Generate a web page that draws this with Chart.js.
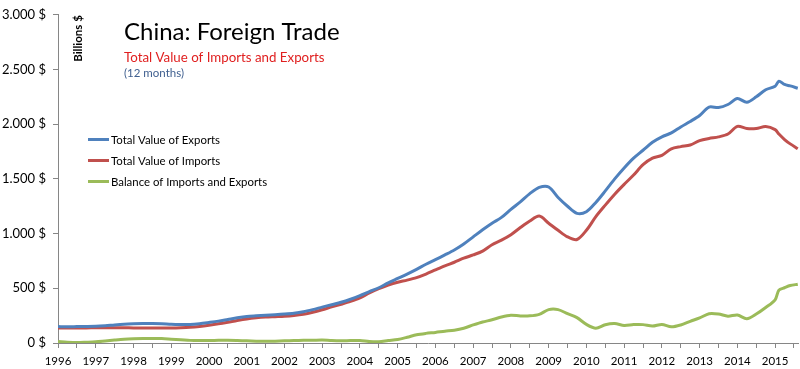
<!DOCTYPE html>
<html>
<head>
<meta charset="utf-8">
<title>China: Foreign Trade</title>
<script src="https://cdn.jsdelivr.net/npm/chart.js@4/dist/chart.umd.min.js"></script>
<style>
  body { margin: 0; background: #fff; }
  canvas { display: block; }
</style>
</head>
<body>
<canvas id="chart" width="800" height="369"></canvas>
<script>
// 12-month totals, billions of US$
const dates = [
  1996.00, 1996.25, 1996.50, 1996.75, 1997.00, 1997.25, 1997.50, 1997.75,
  1998.00, 1998.25, 1998.50, 1998.75, 1999.00, 1999.25, 1999.50, 1999.75,
  2000.00, 2000.25, 2000.50, 2000.75, 2001.00, 2001.25, 2001.50, 2001.75,
  2002.00, 2002.25, 2002.50, 2002.75, 2003.00, 2003.25, 2003.50, 2003.75,
  2004.00, 2004.25, 2004.50, 2004.75, 2005.00, 2005.25, 2005.50, 2005.75,
  2006.00, 2006.25, 2006.50, 2006.75, 2007.00, 2007.25, 2007.50, 2007.75,
  2008.00, 2008.25, 2008.50, 2008.75, 2009.00, 2009.25, 2009.50, 2009.75,
  2010.00, 2010.25, 2010.50, 2010.75, 2011.00, 2011.25, 2011.50, 2011.75,
  2012.00, 2012.25, 2012.50, 2012.75, 2013.00, 2013.25, 2013.50, 2013.75,
  2014.00, 2014.25, 2014.50, 2014.75, 2015.00, 2015.10, 2015.25, 2015.40,
  2015.60
];
const exportsTotal = [
  150, 149, 150, 151, 153, 158, 165, 171,
  175, 178, 179, 177, 172, 170, 170, 177,
  188, 200, 215, 230, 242, 248, 253, 258,
  264, 272, 285, 305, 328, 350, 372, 400,
  433, 470, 505, 550, 590, 630, 673, 720,
  762, 805, 850, 905, 970, 1035, 1095, 1148,
  1222, 1290, 1365, 1422, 1426, 1330, 1250, 1185,
  1200, 1285, 1390, 1500, 1600, 1690, 1762, 1835,
  1885, 1920, 1975, 2025, 2080, 2157, 2152, 2180,
  2235, 2200, 2250, 2315, 2347, 2393, 2363, 2350,
  2329
];
const importsTotal = [
  137, 137, 137, 138, 139, 139, 139, 139,
  138, 138, 138, 137, 137, 139, 143, 151,
  162, 175, 190, 206, 220, 230, 237, 241,
  245, 252, 263, 281, 304, 330, 354, 380,
  412, 458, 497, 530, 556, 575, 598, 630,
  668, 705, 738, 775, 805, 840, 898, 940,
  990, 1055, 1115, 1160, 1095, 1030, 970, 946,
  1030, 1155, 1260, 1360, 1450, 1535, 1630, 1690,
  1715, 1775, 1795, 1810, 1850, 1870, 1884, 1910,
  1980, 1960, 1960, 1978, 1950, 1910, 1860, 1820,
  1776
];
const balance = [
  13, 7, 4, 7, 11, 19, 27, 34,
  38, 40, 41, 40, 35, 30, 24, 22,
  22, 24, 25, 23, 20, 17, 15, 17,
  20, 22, 24, 25, 27, 22, 20, 22,
  23, 13, 11, 22, 32, 52, 75, 88,
  97, 108, 117, 135, 165, 192, 212, 238,
  254, 247, 248, 262, 305, 305, 268, 232,
  170, 135, 167, 178, 160, 168, 168, 155,
  170, 148, 165, 198, 229, 268, 265, 245,
  256, 222, 265, 325, 395, 483, 505, 525,
  537
];
const seriesNames = ['Total Value of Exports', 'Total Value of Imports', 'Balance of Imports and Exports'];
const seriesColors = ['#4f81bd', '#c0504d', '#9bbb59'];

const FONT = 'Lato, "Open Sans", sans-serif';
const AXIS_GRAY = '#868686';

function toPoints(values) {
  return values.map((v, i) => ({ x: dates[i], y: v }));
}

function formatDollar(v) {
  return String(v).replace(/\B(?=(\d{3})+(?!\d))/g, '.') + ' $';
}

// Titel, Achsentitel und Legende direkt auf die Fläche zeichnen
const overlay = {
  id: 'overlay',
  afterDraw(chart) {
    const ctx = chart.ctx;
    ctx.save();
    ctx.textAlign = 'left';
    ctx.textBaseline = 'alphabetic';

    ctx.fillStyle = '#000';
    ctx.font = '24px ' + FONT;
    ctx.fillText('China: Foreign Trade', 124, 40);

    ctx.fillStyle = '#e02020';
    ctx.font = '13.3px ' + FONT;
    ctx.fillText('Total Value of Imports and Exports', 124, 62);

    ctx.fillStyle = '#3f5f8f';
    ctx.font = '11.5px ' + FONT;
    ctx.fillText('(12 months)', 124, 77);

    // vertical axis title
    ctx.save();
    ctx.translate(81.5, 38.5);
    ctx.rotate(-Math.PI / 2);
    ctx.textAlign = 'center';
    ctx.fillStyle = '#000';
    ctx.font = 'bold 11.5px ' + FONT;
    ctx.fillText('Billions $', 0, 0);
    ctx.restore();

    // legend
    ctx.font = '11.4px ' + FONT;
    chart.data.datasets.forEach((ds, i) => {
      const y = 139.5 + i * 21;
      ctx.strokeStyle = ds.borderColor;
      ctx.lineWidth = 3;
      ctx.beginPath();
      ctx.moveTo(88, y);
      ctx.lineTo(109, y);
      ctx.stroke();
      ctx.fillStyle = '#000';
      ctx.fillText(ds.label, 111, y + 4);
    });
    ctx.restore();
  }
};

const datasets = [exportsTotal, importsTotal, balance].map((values, i) => ({
  label: seriesNames[i],
  data: toPoints(values),
  borderColor: seriesColors[i],
  backgroundColor: seriesColors[i],
  borderWidth: 3,
  pointRadius: 0,
  tension: 0.3,
  fill: false
}));

new Chart(document.getElementById('chart'), {
  type: 'line',
  data: { datasets: datasets },
  options: {
    responsive: false,
    animation: false,
    layout: { padding: { top: 12, right: 1, left: 0, bottom: 0 } },
    plugins: {
      legend: { display: false },
      tooltip: { enabled: false }
    },
    scales: {
      x: {
        type: 'linear',
        min: 1996,
        max: 2015.63,
        afterFit: (scale) => { scale.height = 26; },
        border: { color: AXIS_GRAY, width: 1 },
        grid: { drawOnChartArea: false, color: AXIS_GRAY, tickLength: 5 },
        ticks: {
          stepSize: 0.5,
          includeBounds: false,
          autoSkip: false,
          maxRotation: 0,
          padding: 6,
          color: '#000',
          font: { family: FONT, size: 11.5 },
          callback: (v) => Number.isInteger(v) ? String(v) : ''
        }
      },
      y: {
        min: 0,
        max: 3000,
        afterFit: (scale) => { scale.width = 58; },
        border: { color: AXIS_GRAY, width: 1 },
        grid: { drawOnChartArea: false, color: AXIS_GRAY, tickLength: 5 },
        ticks: {
          stepSize: 500,
          padding: 7,
          color: '#000',
          font: { family: FONT, size: 13 },
          callback: (v) => formatDollar(v)
        }
      }
    }
  },
  plugins: [overlay]
});
</script>
</body>
</html>
